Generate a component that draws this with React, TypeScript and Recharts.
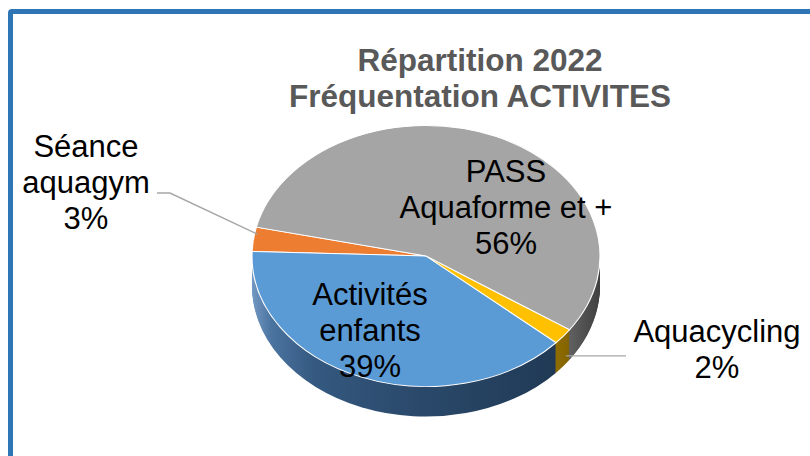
import React from 'react';
import { PieChart, Pie, Cell } from 'recharts';

// Répartition 2022 - fréquentation des activités (parts en %)
const CATEGORIES = ['Séance aquagym', 'Activités enfants', 'Aquacycling', 'PASS Aquaforme et +'];
const SHARES = [3, 39, 2, 56];
const LABEL_LINES = [['Séance', 'aquagym'], ['Activités', 'enfants'], ['Aquacycling'], ['PASS', 'Aquaforme et +']];

const TOP_COLORS = ['#ED7D31', '#5B9BD5', '#FFC000', '#A5A5A5'];
const SIDE_FILLS = ['url(#sideOrange)', 'url(#sideBlue)', 'url(#sideYellow)', 'url(#sideGray)'];

const W = 810;
const H = 456;
const CX = 426;
const CY = 256;
const RX = 174;
const TILT = 0.75; // vertical squash of the pie disc
const DEPTH = 30; // thickness of the disc in px
const START = 167.2;
const FONT = '"Liberation Sans", Arial, sans-serif';
const LINE_H = 36;

const data = CATEGORIES.map((name, i) => ({ name, value: SHARES[i] }));
const SIDE_STEPS = Array.from({ length: DEPTH }, (_, i) => DEPTH - i);

// where Excel put each label (text anchor = first baseline, centred)
const LABEL_PLACE: { x: number; y: number; leader?: 'left' | 'right' }[] = [
    { x: 86, y: 157, leader: 'left' },
    { x: 370, y: 305 },
    { x: 717, y: 342, leader: 'right' },
    { x: 506, y: 182 },
];

function renderLabel(props: any) {
    const { cx, cy, midAngle, outerRadius, index, value } = props;
    const place = LABEL_PLACE[index];
    const rad = (midAngle * Math.PI) / 180;
    const ex = cx + outerRadius * Math.cos(rad);
    const ey = cy - outerRadius * Math.sin(rad) * TILT;
    const lines = [...LABEL_LINES[index], `${value}%`];

    let leader = null;
    if (place.leader === 'left') {
        leader = <polyline points={`${ex + 4},${ey - 5} 170,193 157,193`} fill="none" stroke="#A6A6A6" strokeWidth={1.4} />;
    } else if (place.leader === 'right') {
        const ly = ey + DEPTH * 0.65;
        leader = <polyline points={`${ex + 3},${ly} 626,${ly}`} fill="none" stroke="#A6A6A6" strokeWidth={1.4} />;
    }

    return (
        <g key={`lbl-${index}`}>
            {leader}
            <text x={place.x} y={place.y} textAnchor="middle" fontFamily={FONT} fontSize={31} fill="#000">
                {lines.map((t, j) => (
                    <tspan key={j} x={place.x} dy={j === 0 ? 0 : LINE_H}>{t}</tspan>
                ))}
            </text>
        </g>
    );
}

export default function App() {
    return (
        <div style={{ position: 'absolute', left: 0, top: 0, width: W, height: H, overflow: 'hidden', background: '#fff' }}>
            <div style={{ position: 'absolute', left: 8, top: 9, width: 900, height: 600, border: '5px solid #2E75B6', borderRadius: 4, boxSizing: 'border-box' }} />

            <svg width={W} height={H} style={{ position: 'absolute', left: 0, top: 0 }}>
                <defs>
                    <linearGradient id="sideBlue" gradientUnits="userSpaceOnUse" x1={252} y1={0} x2={570} y2={0}>
                        <stop offset="0" stopColor="#7399c2" />
                        <stop offset="0.06" stopColor="#4b74a0" />
                        <stop offset="0.2" stopColor="#34587f" />
                        <stop offset="0.5" stopColor="#2b4a6c" />
                        <stop offset="1" stopColor="#1f3853" />
                    </linearGradient>
                    <linearGradient id="sideGray" gradientUnits="userSpaceOnUse" x1={560} y1={0} x2={600} y2={0}>
                        <stop offset="0" stopColor="#6a6a6a" />
                        <stop offset="1" stopColor="#3f3f3f" />
                    </linearGradient>
                    <linearGradient id="sideYellow" gradientUnits="userSpaceOnUse" x1={555} y1={0} x2={580} y2={0}>
                        <stop offset="0" stopColor="#8f6d00" />
                        <stop offset="1" stopColor="#7a5c00" />
                    </linearGradient>
                    <linearGradient id="sideOrange" gradientUnits="userSpaceOnUse" x1={250} y1={0} x2={300} y2={0}>
                        <stop offset="0" stopColor="#a5541f" />
                        <stop offset="1" stopColor="#8c4618" />
                    </linearGradient>
                </defs>
                <text x={480} y={71} textAnchor="middle" fontFamily={FONT} fontWeight="bold" fontSize={31.5} fill="#595959">
                    Répartition 2022
                </text>
                <text x={480} y={107} textAnchor="middle" fontFamily={FONT} fontWeight="bold" fontSize={31.5} fill="#595959">
                    Fréquentation ACTIVITES
                </text>
            </svg>

            {/* the disc: drawn round, then squashed into a tilted ellipse */}
            <div style={{ position: 'absolute', left: 0, top: 0, transformOrigin: `${CX}px ${CY}px`, transform: `scaleY(${TILT})` }}>
                <PieChart width={W} height={560} margin={{ top: 0, right: 0, bottom: 0, left: 0 }}>
                    {SIDE_STEPS.map(k => (
                        <Pie
                            key={`side-${k}`}
                            data={data}
                            dataKey="value"
                            cx={CX}
                            cy={CY + k / TILT}
                            outerRadius={RX}
                            startAngle={START}
                            endAngle={START + 360}
                            stroke="none"
                            isAnimationActive={false}
                        >
                            {data.map((d, i) => <Cell key={d.name} fill={SIDE_FILLS[i]} />)}
                        </Pie>
                    ))}
                    <Pie
                        data={data}
                        dataKey="value"
                        cx={CX}
                        cy={CY}
                        outerRadius={RX}
                        startAngle={START}
                        endAngle={START + 360}
                        stroke="#fff"
                        strokeWidth={1.2}
                        isAnimationActive={false}
                    >
                        {data.map((d, i) => <Cell key={d.name} fill={TOP_COLORS[i]} />)}
                    </Pie>
                </PieChart>
            </div>

            {/* labels, laid on the unsquashed page */}
            <div style={{ position: 'absolute', left: 0, top: 0 }}>
                <PieChart width={W} height={H} margin={{ top: 0, right: 0, bottom: 0, left: 0 }}>
                    <Pie
                        data={data}
                        dataKey="value"
                        cx={CX}
                        cy={CY}
                        outerRadius={RX}
                        startAngle={START}
                        endAngle={START + 360}
                        fill="none"
                        stroke="none"
                        label={renderLabel}
                        labelLine={false}
                        isAnimationActive={false}
                    />
                </PieChart>
            </div>
        </div>
    );
}
